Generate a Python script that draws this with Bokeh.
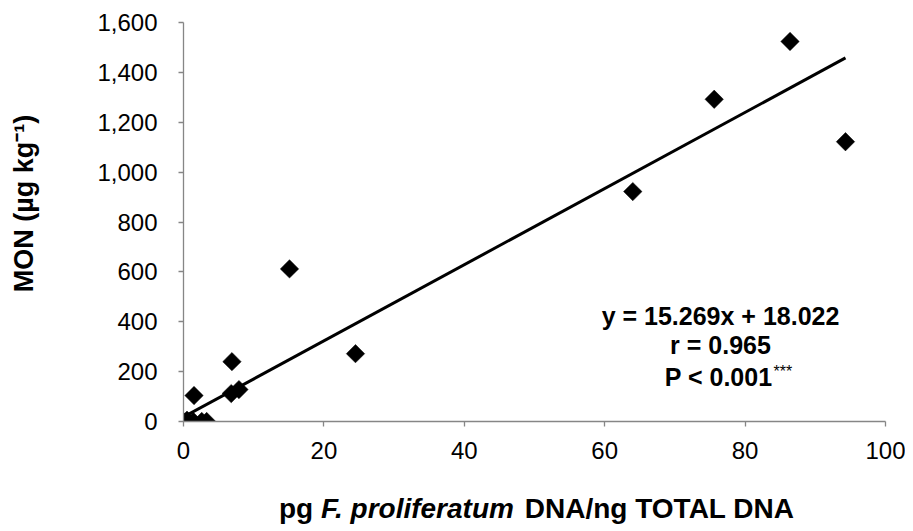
import math
from bokeh.plotting import figure
from bokeh.models import Range1d, Label, NumeralTickFormatter, FixedTicker
from bokeh.embed import file_html
from bokeh.resources import INLINE

# data
x_dna = [0.0, 0.5, 1.4, 2.6, 3.3, 1.5, 6.8, 7.9, 6.9, 15.1, 24.5, 64.0, 75.6, 86.4, 94.3]
y_mon = [0, 5, 0, 0, 0, 104, 112, 128, 240, 612, 272, 922, 1292, 1524, 1122]

x_ticks = [0, 20, 40, 60, 80, 100]
y_ticks = [0, 200, 400, 600, 800, 1000, 1200, 1400, 1600]

slope = 15.269
intercept = 18.022
eq_text = "y = 15.269x + 18.022"
r_text = "r = 0.965"
p_text = "P < 0.001"
sig_text = "***"

x_label_parts = ["pg", "F. proliferatum", "DNA/ng TOTAL DNA"]
y_label = "MON (µg kg⁻¹)"

FONT = "Liberation Sans"
AXIS_COLOR = "#868686"

p = figure(frame_width=702, frame_height=399,
           x_range=Range1d(0, 100), y_range=Range1d(0, 1600),
           min_border_left=183, min_border_right=20, min_border_top=22, min_border_bottom=102,
           output_backend="svg", toolbar_location=None)

p.outline_line_color = None
p.xgrid.visible = False
p.ygrid.visible = False
p.background_fill_color = "white"
p.border_fill_color = "white"

for ax in (p.xaxis, p.yaxis):
    ax.axis_line_color = AXIS_COLOR
    ax.axis_line_width = 1.3
    ax.major_tick_line_color = AXIS_COLOR
    ax.major_tick_line_width = 1.3
    ax.major_tick_out = 5
    ax.major_tick_in = 0
    ax.minor_tick_line_color = None
    ax.major_label_text_font = FONT
    ax.major_label_text_font_size = "24px"
    ax.major_label_text_color = "black"

p.xaxis.ticker = FixedTicker(ticks=x_ticks)
p.yaxis.ticker = FixedTicker(ticks=y_ticks)
p.yaxis.formatter = NumeralTickFormatter(format="0,0")
p.xaxis.major_label_standoff = 15
p.yaxis.major_label_standoff = 21

# trend line over data range
x0, x1 = min(x_dna), max(x_dna)
p.line([x0, x1], [slope * x0 + intercept, slope * x1 + intercept],
       line_color="black", line_width=3)

p.scatter(x_dna, y_mon, marker="square", size=13, angle=math.pi / 4,
          fill_color="black", line_color="black", line_width=0.5)

# axis titles placed in side panels
p.add_layout(Label(x=0, y=0, x_offset=-160, y_offset=218, text=y_label,
                   angle=math.pi / 2, text_align="center", text_baseline="middle",
                   text_font=FONT, text_font_style="bold", text_font_size="27px",
                   text_color="black"), "left")

xl_offsets = [95.5, 137.5, 341.3]
xl_styles = ["bold", "bold italic", "bold"]
for txt, off, sty in zip(x_label_parts, xl_offsets, xl_styles):
    p.add_layout(Label(x=0, y=0, x_offset=off, y_offset=-87, text=txt,
                       text_align="left", text_baseline="alphabetic",
                       text_font=FONT, text_font_style=sty, text_font_size="28px",
                       text_color="black"), "below")

# equation annotation
for txt, yo in ((eq_text, 106), (r_text, 77)):
    p.add_layout(Label(x=0, y=0, x_offset=537, y_offset=yo, text=txt,
                       text_align="center", text_baseline="alphabetic",
                       text_font=FONT, text_font_style="bold", text_font_size="25px",
                       text_color="black"))
p.add_layout(Label(x=0, y=0, x_offset=589, y_offset=45, text=p_text,
                   text_align="right", text_baseline="alphabetic",
                   text_font=FONT, text_font_style="bold", text_font_size="25px",
                   text_color="black"))
p.add_layout(Label(x=0, y=0, x_offset=590, y_offset=50, text=sig_text,
                   text_align="left", text_baseline="alphabetic",
                   text_font=FONT, text_font_style="normal", text_font_size="16px",
                   text_color="black"))

open("out.html", "w").write(file_html(p, INLINE))
